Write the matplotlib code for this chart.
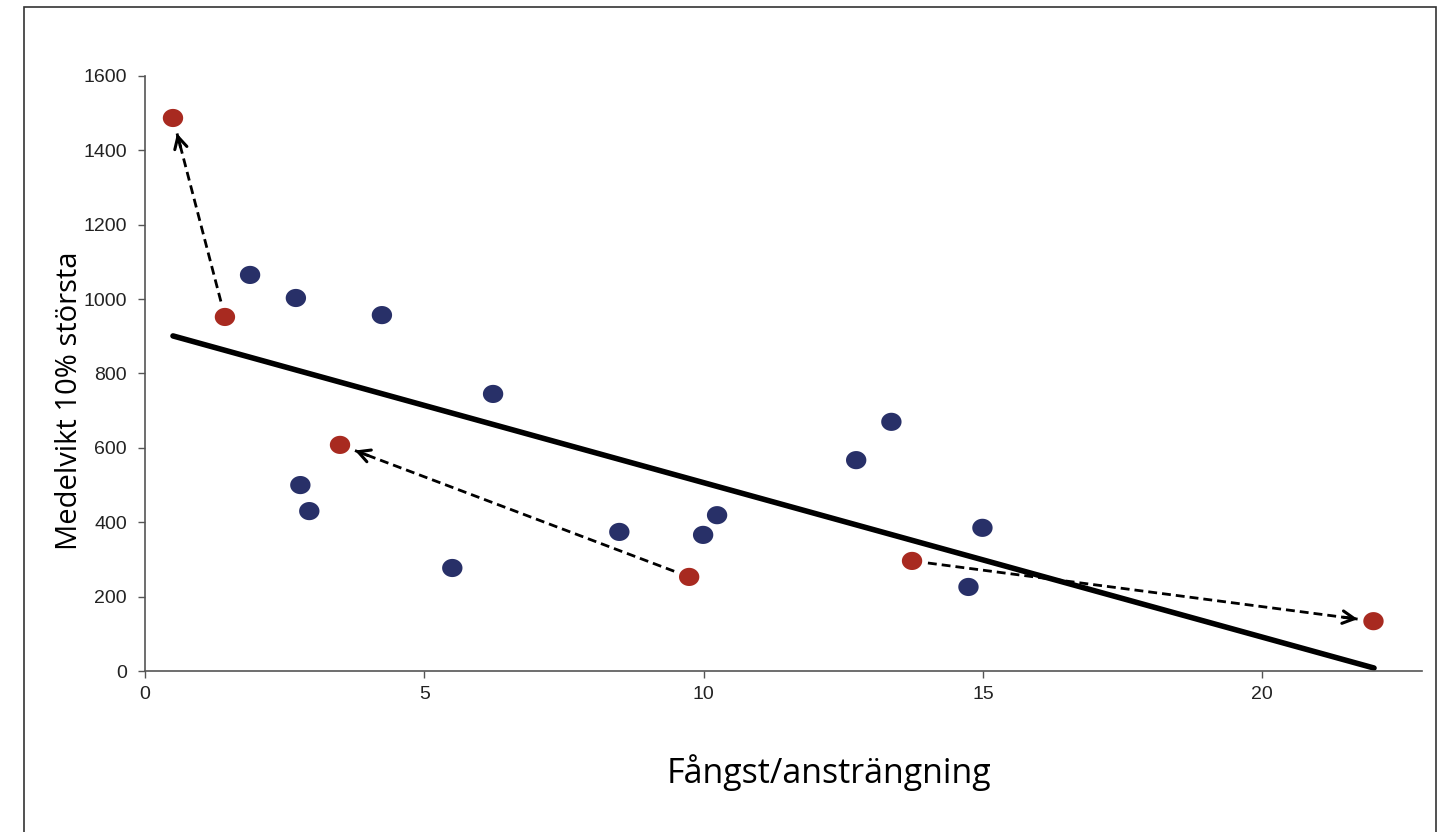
import numpy as np
import matplotlib
matplotlib.use("Agg")
import matplotlib.pyplot as plt
from matplotlib.patches import Rectangle
from matplotlib.path import Path

# blue points: ordinary years
blueX = [1.88, 2.70, 2.78, 2.94, 4.24, 5.50, 6.23, 8.49, 9.99, 10.24, 12.73, 13.36, 14.74, 14.99]
blueY = [1065, 1003, 500, 430, 957, 277, 745, 374, 366, 419, 567, 670, 226, 385]

# red points: pairs linked by arrows
redX = [0.50, 1.43, 3.49, 9.74, 13.73, 21.99]
redY = [1487, 952, 608, 253, 296, 134]

# arrows as (from index, to index) into the red lists
arrowPairs = [(1, 0), (3, 2), (4, 5)]

# trend line end points
lineX = [0.5, 22.0]
lineY = [901, 8]

xTicks = [0, 5, 10, 15, 20]
yTicks = [0, 200, 400, 600, 800, 1000, 1200, 1400, 1600]

# slightly wide ellipse marker
t = np.linspace(0, 2 * np.pi, 60)
ellipse = Path(np.column_stack([1.12 * np.cos(t), np.sin(t)]), closed=True)

fig = plt.figure(figsize=(14.52, 8.32), dpi=100)
ax = fig.add_axes([0.0999, 0.1935, 0.8791, 0.7152])

# outer frame around the whole chart
fig.patches.append(Rectangle((0.0165, -0.05), 0.9725, 1.0416, transform=fig.transFigure,
                             fill=False, edgecolor='#333333', linewidth=1.2))

ax.set_xlim(0, 22.85)
ax.set_ylim(0, 1600)

ax.plot(lineX, lineY, color='black', linewidth=4.0, solid_capstyle='round', zorder=2)

ax.scatter(blueX, blueY, s=215, marker=ellipse, color='#283068', edgecolors='none', zorder=3)
ax.scatter(redX, redY, s=215, marker=ellipse, color='#A82A20', edgecolors='none', zorder=3)

gap = 16  # pixels between marker centre and line end
inv = ax.transData.inverted()
for a, b in arrowPairs:
    p0 = ax.transData.transform((redX[a], redY[a]))
    p1 = ax.transData.transform((redX[b], redY[b]))
    u = (p1 - p0) / np.hypot(*(p1 - p0))
    start = p0 + u * gap
    tip = p1 - u * gap
    back = tip - u * 14
    s, e, k = inv.transform(start), inv.transform(tip), inv.transform(back)
    # dashed shaft
    ax.plot([s[0], e[0]], [s[1], e[1]], color='black', linewidth=2.0,
            linestyle=(0, (3.2, 1.8)), zorder=4)
    # solid open arrow head
    ax.annotate('', xy=e, xytext=k,
                arrowprops=dict(arrowstyle='->,head_length=0.85,head_width=0.45', linewidth=2.2,
                                color='black', shrinkA=0, shrinkB=0), zorder=4)

ax.set_xticks(xTicks)
ax.set_yticks(yTicks)

for side in ['top', 'right']:
    ax.spines[side].set_visible(False)
for side in ['left', 'bottom']:
    ax.spines[side].set_color('#555555')
    ax.spines[side].set_linewidth(1.2)

ax.tick_params(direction='out', length=5, width=1.0, color='#555555', labelsize=14,
               labelcolor='#222222')
ax.tick_params(axis='y', pad=8)
ax.tick_params(axis='x', pad=6)
for lab in ax.get_xticklabels() + ax.get_yticklabels():
    lab.set_family('Liberation Sans')

ax.set_xlabel('Fångst/ansträngning', fontsize=24.5, family='Open Sans')
ax.xaxis.set_label_coords(0.5356, -0.14)
ax.set_ylabel('Medelvikt 10% största', fontsize=21, family='Open Sans')
ax.yaxis.set_label_coords(-0.048, 0.454)

fig.savefig('out.png', dpi=100)
